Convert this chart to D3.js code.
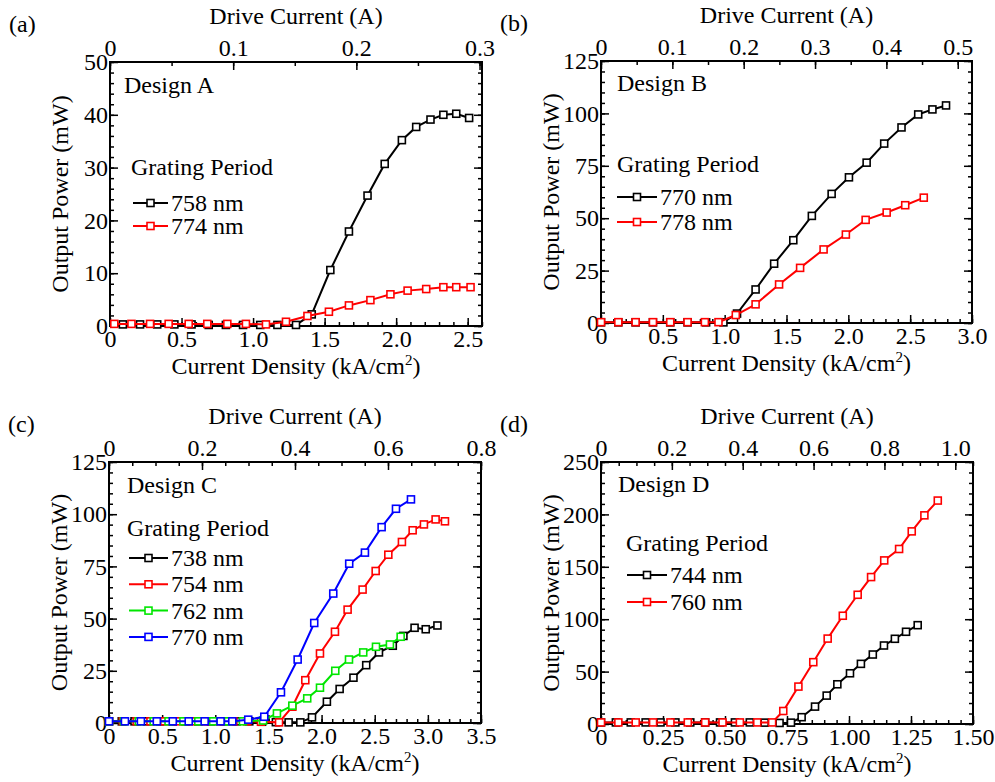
<!DOCTYPE html>
<meta charset="utf-8">
<style>
body { margin: 0; background: #fff; }
svg text { font-family: "Liberation Serif", "Tinos", "Times New Roman", "DejaVu Serif", serif; font-size: 24px; fill: #000; }
.tick line { stroke: #000; stroke-width: 1.5; }
</style>
<body>
<script src="https://d3js.org/d3.v7.min.js"></script>
<script>

// ---- values: current density (kA/cm2) vs output power (mW) ----

// (a) Design A
var a758x = [0.09, 0.21, 0.33, 0.45, 0.57, 0.69, 0.81, 0.93, 1.05, 1.17, 1.30, 1.41, 1.54, 1.67, 1.80, 1.92, 2.04, 2.14, 2.24, 2.33, 2.42, 2.51];
var a758y = [0.3, 0.3, 0.3, 0.3, 0.3, 0.2, 0.2, 0.2, 0.2, 0.2, 0.2, 2.2, 10.6, 17.9, 24.7, 30.7, 35.2, 37.7, 39.1, 40.0, 40.2, 39.4];
var a774x = [0.03, 0.15, 0.28, 0.41, 0.55, 0.68, 0.82, 0.95, 1.09, 1.23, 1.38, 1.53, 1.67, 1.82, 1.96, 2.08, 2.21, 2.33, 2.42, 2.52];
var a774y = [0.4, 0.4, 0.4, 0.4, 0.4, 0.4, 0.4, 0.4, 0.3, 0.8, 1.9, 2.7, 3.9, 4.9, 6.0, 6.7, 7.0, 7.35, 7.35, 7.35];

// (b) Design B
var b770x = [0.0, 0.14, 0.28, 0.42, 0.56, 0.70, 0.85, 0.99, 1.10, 1.25, 1.40, 1.555, 1.705, 1.865, 2.005, 2.148, 2.29, 2.43, 2.565, 2.68, 2.79];
var b770y = [0.3, 0.3, 0.3, 0.3, 0.3, 0.3, 0.3, 0.3, 4.5, 16.0, 28.3, 39.5, 51.1, 61.6, 69.5, 76.5, 85.6, 93.3, 99.5, 101.9, 103.8];
var b778x = [0.0, 0.14, 0.28, 0.42, 0.56, 0.70, 0.84, 0.95, 1.09, 1.25, 1.44, 1.61, 1.80, 1.98, 2.14, 2.31, 2.46, 2.61];
var b778y = [0.4, 0.4, 0.4, 0.4, 0.4, 0.4, 0.4, 0.4, 3.8, 8.9, 18.4, 26.3, 35.1, 42.2, 49.2, 52.7, 56.2, 59.8];

// (c) Design C
var c738x = [0.0, 0.12, 0.24, 0.36, 0.48, 0.60, 0.72, 0.84, 0.96, 1.08, 1.20, 1.32, 1.44, 1.57, 1.69, 1.80, 1.91, 2.05, 2.17, 2.30, 2.42, 2.54, 2.67, 2.77, 2.875, 2.98, 3.09];
var c738y = [0.8, 0.8, 0.8, 0.8, 0.8, 0.8, 0.8, 0.8, 0.8, 0.8, 0.8, 0.8, 0.6, 0.4, 0.3, 0.3, 2.7, 10.2, 16.3, 21.7, 27.7, 33.8, 37.0, 41.7, 45.6, 44.9, 46.7];
var c754x = [0.0, 0.13, 0.26, 0.39, 0.52, 0.65, 0.78, 0.91, 1.04, 1.17, 1.30, 1.43, 1.60, 1.725, 1.847, 1.985, 2.126, 2.245, 2.386, 2.509, 2.628, 2.756, 2.857, 2.963, 3.073, 3.161];
var c754y = [0.8, 0.8, 0.8, 0.8, 0.8, 0.8, 0.8, 0.8, 0.8, 0.8, 0.8, 0.6, 0.3, 7.8, 20.5, 33.3, 43.7, 54.3, 63.9, 72.8, 80.6, 86.7, 92.3, 95.1, 97.5, 96.6];
var c762x = [0.0, 0.14, 0.28, 0.42, 0.56, 0.70, 0.84, 0.98, 1.12, 1.26, 1.45, 1.58, 1.725, 1.865, 1.985, 2.129, 2.258, 2.392, 2.512, 2.643, 2.744];
var c762y = [0.8, 0.8, 0.8, 0.8, 0.8, 0.8, 0.8, 0.8, 0.8, 0.8, 1.2, 4.6, 8.3, 11.8, 16.9, 25.0, 30.4, 33.8, 36.5, 37.6, 41.3];
var c770x = [0.0, 0.15, 0.30, 0.45, 0.60, 0.75, 0.90, 1.05, 1.16, 1.31, 1.461, 1.618, 1.775, 1.931, 2.11, 2.26, 2.408, 2.565, 2.70, 2.841];
var c770y = [0.8, 0.8, 0.8, 0.8, 0.8, 0.8, 0.8, 0.8, 0.8, 1.6, 3.0, 14.7, 30.4, 47.9, 62.0, 76.3, 81.6, 93.8, 102.6, 107.1];

// (d) Design D
var d744x = [0.0, 0.06, 0.12, 0.18, 0.24, 0.30, 0.36, 0.42, 0.48, 0.54, 0.60, 0.66, 0.72, 0.766, 0.809, 0.863, 0.910, 0.953, 1.004, 1.048, 1.096, 1.141, 1.185, 1.230, 1.277];
var d744y = [1.5, 1.5, 1.5, 1.5, 1.5, 1.5, 1.5, 1.5, 1.5, 1.5, 1.5, 1.3, 1.0, 1.3, 6.5, 16.6, 27.1, 37.9, 48.4, 57.4, 66.3, 74.9, 81.3, 88.0, 94.3];
var d760x = [0.0, 0.07, 0.14, 0.21, 0.28, 0.35, 0.42, 0.49, 0.56, 0.63, 0.69, 0.735, 0.796, 0.856, 0.914, 0.975, 1.035, 1.089, 1.142, 1.202, 1.253, 1.304, 1.358];
var d760y = [1.5, 1.5, 1.5, 1.5, 1.5, 1.5, 1.5, 1.5, 1.5, 1.5, 1.5, 12.4, 35.7, 59.0, 81.5, 103.3, 123.3, 140.2, 156.1, 167.0, 183.8, 199.1, 213.2];

// ---- tick labels ----
var aDensTicks = [0, 0.5, 1.0, 1.5, 2.0, 2.5];
var bDensTicks = [0, 0.5, 1.0, 1.5, 2.0, 2.5, 3.0];
var cDensTicks = [0, 0.5, 1.0, 1.5, 2.0, 2.5, 3.0, 3.5];
var dDensTicks = [0, 0.25, 0.5, 0.75, 1.0, 1.25, 1.5];
var aCurrTicks = [0, 0.1, 0.2, 0.3];
var bCurrTicks = [0, 0.1, 0.2, 0.3, 0.4, 0.5];
var cCurrTicks = [0, 0.2, 0.4, 0.6, 0.8];
var dCurrTicks = [0, 0.2, 0.4, 0.6, 0.8, 1.0];
var aPowTicks = [0, 10, 20, 30, 40, 50];
var bPowTicks = [0, 25, 50, 75, 100, 125];
var dPowTicks = [0, 50, 100, 150, 200, 250];

var colors = {black: "#000000", red: "#ff0000", green: "#00e600", blue: "#0000ff"};

var svg = d3.select("body").append("svg")
  .attr("width", 995)
  .attr("height", 782);

var f1 = function(d) { return d === 0 ? "0" : d3.format(".1f")(d); };
var f2 = function(d) { return d === 0 ? "0" : d3.format(".2f")(d); };
var fi = d3.format("d");

var panels = [
  {tag: "(a)", name: "Design A", l: 110, r: 482, t: 62, b: 326,
   xMax: 2.6, xTicks: aDensTicks, xMinor: 0.1, xFmt: f1,
   tMax: 0.302, tTicks: aCurrTicks, tMinor: 0.05, tFmt: f1,
   yMax: 50, yTicks: aPowTicks, yMinor: 2,
   series: [[a758x, a758y, "black", "758 nm"], [a774x, a774y, "red", "774 nm"]],
   leg: {dx: 124, dy: 93, gx: 131, gy: 175, lx: 133, lw: 35, ly: 203, step: 23}},
  {tag: "(b)", name: "Design B", l: 601, r: 972, t: 61, b: 323,
   xMax: 3.0, xTicks: bDensTicks, xMinor: 0.1, xFmt: f1,
   tMax: 0.52, tTicks: bCurrTicks, tMinor: 0.05, tFmt: f1,
   yMax: 125, yTicks: bPowTicks, yMinor: 5,
   series: [[b770x, b770y, "black", "770 nm"], [b778x, b778y, "red", "778 nm"]],
   leg: {dx: 617, dy: 91, gx: 617, gy: 172, lx: 617, lw: 40, ly: 197, step: 25}},
  {tag: "(c)", name: "Design C", l: 109, r: 481, t: 462, b: 723,
   xMax: 3.5, xTicks: cDensTicks, xMinor: 0.1, xFmt: f1,
   tMax: 0.8, tTicks: cCurrTicks, tMinor: 0.05, tFmt: f1,
   yMax: 125, yTicks: bPowTicks, yMinor: 5,
   series: [[c738x, c738y, "black", "738 nm"], [c754x, c754y, "red", "754 nm"],
            [c762x, c762y, "green", "762 nm"], [c770x, c770y, "blue", "770 nm"]],
   leg: {dx: 127, dy: 493, gx: 127, gy: 536, lx: 129, lw: 39, ly: 558, step: 26.3}},
  {tag: "(d)", name: "Design D", l: 601, r: 973, t: 462, b: 724,
   xMax: 1.5, xTicks: dDensTicks, xMinor: 0.05, xFmt: f2,
   tMax: 1.05, tTicks: dCurrTicks, tMinor: 0.05, tFmt: f1,
   yMax: 250, yTicks: dPowTicks, yMinor: 10,
   series: [[d744x, d744y, "black", "744 nm"], [d760x, d760y, "red", "760 nm"]],
   leg: {dx: 618, dy: 492, gx: 626, gy: 551, lx: 627, lw: 40, ly: 575, step: 27}}
];

function ticks(g, axis) {
  g.call(axis).attr("font-size", null).attr("font-family", null);
  g.select(".domain").remove();
}

function drawPanel(p) {
  var g = svg.append("g");
  var x = d3.scaleLinear().domain([0, p.xMax]).range([p.l, p.r]);
  var xt = d3.scaleLinear().domain([0, p.tMax]).range([p.l, p.r]);
  var y = d3.scaleLinear().domain([0, p.yMax]).range([p.b, p.t]);

  var xMinorV = d3.range(0, p.xMax + 1e-9, p.xMinor);
  var tMinorV = d3.range(0, p.tMax + 1e-9, p.tMinor);
  var yMinorV = d3.range(0, p.yMax + 1e-9, p.yMinor);

  // minor ticks on all four sides
  ticks(g.append("g").attr("transform", "translate(0," + p.b + ")"),
        d3.axisBottom(x).tickValues(xMinorV).tickSize(-4).tickFormat(""));
  ticks(g.append("g").attr("transform", "translate(0," + p.t + ")"),
        d3.axisTop(xt).tickValues(tMinorV).tickSize(-4).tickFormat(""));
  ticks(g.append("g").attr("transform", "translate(" + p.l + ",0)"),
        d3.axisLeft(y).tickValues(yMinorV).tickSize(-4).tickFormat(""));
  ticks(g.append("g").attr("transform", "translate(" + p.r + ",0)"),
        d3.axisRight(y).tickValues(yMinorV).tickSize(-4).tickFormat(""));

  // major ticks + labels
  ticks(g.append("g").attr("transform", "translate(0," + p.b + ")"),
        d3.axisBottom(x).tickValues(p.xTicks).tickSize(-8).tickPadding(4).tickFormat(p.xFmt));
  ticks(g.append("g").attr("transform", "translate(0," + p.t + ")"),
        d3.axisTop(xt).tickValues(p.tTicks).tickSize(-8).tickPadding(6).tickFormat(p.tFmt));
  ticks(g.append("g").attr("transform", "translate(" + p.l + ",0)"),
        d3.axisLeft(y).tickValues(p.yTicks).tickSize(-8).tickPadding(2).tickFormat(fi));
  ticks(g.append("g").attr("transform", "translate(" + p.r + ",0)"),
        d3.axisRight(y).tickValues(p.yTicks).tickSize(-8).tickFormat(""));

  // frame
  g.append("rect")
    .attr("x", p.l).attr("y", p.t)
    .attr("width", p.r - p.l).attr("height", p.b - p.t)
    .attr("fill", "none").attr("stroke", "#000").attr("stroke-width", 2);

  // titles
  var cx = (p.l + p.r) / 2;
  g.append("text").attr("x", cx).attr("y", p.t - 38)
    .attr("text-anchor", "middle").text("Drive Current (A)");
  var xl = g.append("text").attr("x", cx).attr("y", p.b + 48)
    .attr("text-anchor", "middle");
  xl.append("tspan").text("Current Density (kA/cm");
  xl.append("tspan").attr("dy", -9).style("font-size", "15px").text("2");
  xl.append("tspan").attr("dy", 9).text(")");
  g.append("text")
    .attr("transform", "translate(" + (p.l - 42) + "," + ((p.t + p.b) / 2) + ") rotate(-90)")
    .attr("text-anchor", "middle").text("Output Power (mW)");
  g.append("text").attr("x", p.l - 101).attr("y", p.t - 30).text(p.tag);

  // series
  var line = d3.line().x(function(d) { return x(d[0]); }).y(function(d) { return y(d[1]); });
  p.series.forEach(function(s) {
    var pts = d3.zip(s[0], s[1]);
    var c = colors[s[2]];
    g.append("path").datum(pts)
      .attr("d", line).attr("fill", "none")
      .attr("stroke", c).attr("stroke-width", 2);
    g.selectAll(null).data(pts).enter().append("rect")
      .attr("x", function(d) { return x(d[0]) - 3.5; })
      .attr("y", function(d) { return y(d[1]) - 3.5; })
      .attr("width", 7).attr("height", 7)
      .attr("fill", "#fff").attr("stroke", c).attr("stroke-width", 1.6);
  });

  // legend
  var L = p.leg;
  g.append("text").attr("x", L.dx).attr("y", L.dy).text(p.name);
  g.append("text").attr("x", L.gx).attr("y", L.gy).text("Grating Period");
  p.series.forEach(function(s, i) {
    var yy = L.ly + i * L.step;
    var c = colors[s[2]];
    g.append("line").attr("x1", L.lx).attr("x2", L.lx + L.lw)
      .attr("y1", yy).attr("y2", yy).attr("stroke", c).attr("stroke-width", 2);
    g.append("rect").attr("x", L.lx + L.lw / 2 - 3.5).attr("y", yy - 3.5)
      .attr("width", 7).attr("height", 7)
      .attr("fill", "#fff").attr("stroke", c).attr("stroke-width", 1.6);
    g.append("text").attr("x", L.lx + L.lw + 3).attr("y", yy + 8).text(s[3]);
  });
}

panels.forEach(drawPanel);

</script>
